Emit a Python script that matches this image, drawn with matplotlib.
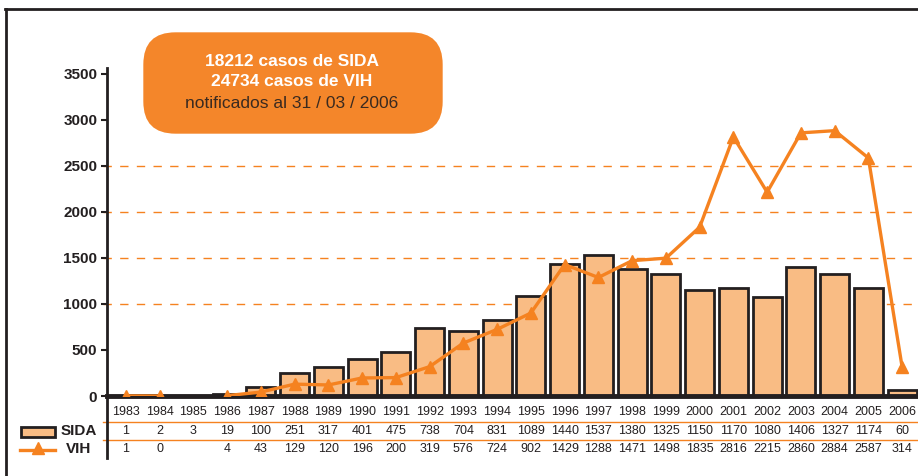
import matplotlib.pyplot as plt
import numpy as np
from matplotlib.lines import Line2D
from matplotlib.patches import FancyBboxPatch, Rectangle

years = [1983, 1984, 1985, 1986, 1987, 1988, 1989, 1990, 1991, 1992, 1993, 1994,
         1995, 1996, 1997, 1998, 1999, 2000, 2001, 2002, 2003, 2004, 2005, 2006]
sida = [1, 2, 3, 19, 100, 251, 317, 401, 475, 738, 704, 831,
        1089, 1440, 1537, 1380, 1325, 1150, 1170, 1080, 1406, 1327, 1174, 60]
vih = [1, 0, None, 4, 43, 129, 120, 196, 200, 319, 576, 724,
       902, 1429, 1288, 1471, 1498, 1835, 2816, 2215, 2860, 2884, 2587, 314]
yticks = [0, 500, 1000, 1500, 2000, 2500, 3000, 3500]
grid_vals = [1000, 1500, 2000, 2500]

bar_col = '#F9BC84'
edge_col = '#231F20'
orange = '#F58220'
plt.rcParams['font.family'] = ['Liberation Sans', 'DejaVu Sans']

fig = plt.figure(figsize=(9.18, 4.76), dpi=100)
ax = fig.add_axes([107 / 918, 1 - 396 / 476, 1 - 107 / 918, 328 / 476])

x = np.arange(len(years))
vih_arr = np.array([np.nan if v is None else v for v in vih], dtype=float)

for g in grid_vals:
    ax.plot([-0.68, 23.6], [g, g], color=orange, lw=1, ls=(0, (6, 6)), clip_on=False, zorder=1)

ax.bar(x, sida, width=0.86, color=bar_col, edgecolor=edge_col, linewidth=2, zorder=2)
ax.plot(x, vih_arr, color=orange, lw=2.4, marker='^', markersize=8, zorder=3)

ax.set_xlim(-0.56, 23.47)
ax.set_ylim(0, 3565)
ax.set_yticks(yticks)
ax.set_yticklabels([str(t) for t in yticks], fontsize=11, fontweight='bold', color='#231F20')
ax.set_xticks([])
ax.tick_params(axis='y', length=4, width=1.5, color=edge_col, pad=3)
for s in ['top', 'right']:
    ax.spines[s].set_visible(False)
ax.spines['left'].set_linewidth(2)
ax.spines['left'].set_color(edge_col)
ax.spines['bottom'].set_linewidth(3.5)
ax.spines['bottom'].set_color(edge_col)

# data table under the axis
def ypix(p):
    return -(p - 396) / 0.092

for i in range(len(years)):
    ax.text(x[i], ypix(412), str(years[i]), ha='center', va='center', fontsize=9, color='#231F20', clip_on=False)
    ax.text(x[i], ypix(431), str(sida[i]), ha='center', va='center', fontsize=9, color='#231F20', clip_on=False)
    if vih[i] is not None:
        ax.text(x[i], ypix(449), str(vih[i]), ha='center', va='center', fontsize=9, color='#231F20', clip_on=False)

for p in [422, 440]:
    fig.add_artist(Line2D([103 / 918, 1], [1 - p / 476, 1 - p / 476], color=orange, lw=1))
fig.add_artist(Line2D([107 / 918, 107 / 918], [1 - 396 / 476, 1 - 458 / 476], color=edge_col, lw=2))

# legend on the left of the table
fig.add_artist(Rectangle((21 / 918, 1 - 437 / 476), 34 / 918, 10 / 476, facecolor=bar_col,
                         edgecolor=edge_col, lw=2, transform=fig.transFigure))
fig.text(61 / 918, 1 - 431 / 476, 'SIDA', fontsize=11, fontweight='bold', va='center', color='#231F20')
fig.add_artist(Line2D([20 / 918, 55 / 918], [1 - 450 / 476, 1 - 450 / 476], color=orange, lw=2.4))
fig.add_artist(Line2D([38 / 918], [1 - 448 / 476], color=orange, marker='^', markersize=8))
fig.text(66 / 918, 1 - 449 / 476, 'VIH', fontsize=11, fontweight='bold', va='center', color='#231F20')

# frame
fig.add_artist(Line2D([5 / 918, 1], [1 - 9 / 476, 1 - 9 / 476], color=edge_col, lw=2))
fig.add_artist(Line2D([6 / 918, 6 / 918], [0, 1 - 9 / 476], color=edge_col, lw=2))

# summary box
box = FancyBboxPatch((158 / 918, 1 - 119 / 476), 270 / 918, 72 / 476,
                     boxstyle='round,pad=0.016,rounding_size=0.035', transform=fig.transFigure,
                     facecolor='#F4862A', edgecolor='none', mutation_aspect=918 / 476)
fig.add_artist(box)
fig.text(292 / 918, 1 - 61 / 476, '18212 casos de SIDA', ha='center', va='center', fontsize=12.5,
         fontweight='bold', color='white')
fig.text(292 / 918, 1 - 82 / 476, '24734 casos de VIH', ha='center', va='center', fontsize=12.5,
         fontweight='bold', color='white')
fig.text(292 / 918, 1 - 104 / 476, 'notificados al 31 / 03 / 2006', ha='center', va='center', fontsize=12.5,
         color='#3a2a20')

fig.savefig('out.png', dpi=100)
